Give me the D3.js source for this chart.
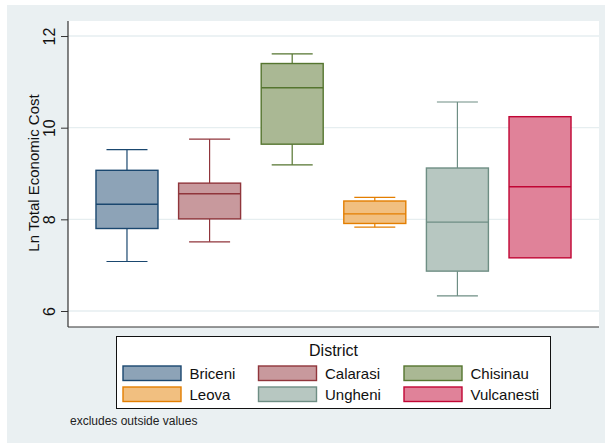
<!DOCTYPE html>
<html>
<head>
<meta charset="utf-8">
<script src="https://cdn.jsdelivr.net/npm/d3@7"></script>
<style>
  body { margin: 0; background: #fff; }
  svg text { font-family: "Liberation Sans", Arial, sans-serif; }
</style>
</head>
<body>
<div id="chart"></div>
<script>
// data (ln of total economic cost per district)
const districts = ['Briceni', 'Calarasi', 'Chisinau', 'Leova', 'Ungheni', 'Vulcanesti']
const lowWhisker  = [7.08, 7.51, 9.19, 7.83, 6.33, 7.16]
const q1          = [7.80, 8.01, 9.64, 7.91, 6.87, 7.16]
const medians     = [8.33, 8.56, 10.87, 8.12, 7.94, 8.71]
const q3          = [9.07, 8.79, 11.40, 8.40, 9.12, 10.24]
const highWhisker = [9.52, 9.75, 11.61, 8.48, 10.56, 10.24]
const yTicks = [6, 8, 10, 12]

const strokeColors = ['#1a476f', '#90353b', '#55752f', '#e37e00', '#6e8e84', '#c10534']
const fillColors   = ['#8da3b7', '#c8999d', '#aab894', '#f1bf80', '#b7c7c1', '#e08299']

const width = 605
const height = 443
const plot = {left: 68, right: 599, top: 21, bottom: 327}

const rows = districts.map((d, i) => ({
  name: d, lo: lowWhisker[i], q1: q1[i], med: medians[i], q3: q3[i], hi: highWhisker[i],
  stroke: strokeColors[i], fill: fillColors[i]
}))

const svg = d3.select('#chart')
  .append('svg')
  .attr('width', width)
  .attr('height', height)

// outer stata-like background
svg.append('rect')
  .attr('x', 7).attr('y', 5)
  .attr('width', width - 7).attr('height', height - 5)
  .attr('fill', '#eaf0f2')

svg.append('rect')
  .attr('x', plot.left).attr('y', plot.top)
  .attr('width', plot.right - plot.left).attr('height', plot.bottom - plot.top)
  .attr('fill', '#ffffff')

const yScale = d3.scaleLinear()
  .domain([6 - (plot.bottom - 311) / 45.83, 6 + (311 - plot.top) / 45.83])
  .range([plot.bottom, plot.top])

const xScale = d3.scalePoint()
  .domain(districts)
  .range([plot.left, plot.right])
  .padding(0.714)

const boxW = 62
const capW = 41

// gridlines
svg.append('g')
  .selectAll('line')
  .data(yTicks)
  .enter()
  .append('line')
  .attr('x1', plot.left).attr('x2', plot.right)
  .attr('y1', d => yScale(d)).attr('y2', d => yScale(d))
  .attr('stroke', '#e6eef0')
  .attr('stroke-width', 1.3)

// y axis
const yAxis = d3.axisLeft(yScale)
  .tickValues(yTicks)
  .tickFormat(d3.format('d'))
  .tickSize(7)
  .tickSizeOuter(0)

const yAxisGroup = svg.append('g')
  .attr('transform', `translate(${plot.left}, 0)`)
  .call(yAxis)

yAxisGroup.select('.domain').remove()
yAxisGroup.selectAll('line').attr('stroke', '#333')
yAxisGroup.selectAll('text')
  .attr('font-size', '16px')
  .attr('fill', '#111')
  .attr('text-anchor', 'middle')
  .attr('dy', null)
  .attr('x', null)
  .attr('transform', d => `translate(-13, 0) rotate(-90)`)

svg.append('line')
  .attr('x1', plot.left).attr('x2', plot.left)
  .attr('y1', plot.top).attr('y2', plot.bottom)
  .attr('stroke', '#333').attr('stroke-width', 1.2)
svg.append('line')
  .attr('x1', plot.left).attr('x2', plot.right)
  .attr('y1', plot.bottom).attr('y2', plot.bottom)
  .attr('stroke', '#333').attr('stroke-width', 1.2)

svg.append('text')
  .text('Ln Total Economic Cost')
  .attr('transform', `translate(38.5, 173) rotate(-90)`)
  .attr('text-anchor', 'middle')
  .attr('font-size', '15px')
  .attr('fill', '#111')

// boxes
const boxes = svg.append('g').selectAll('g')
  .data(rows)
  .enter()
  .append('g')
  .attr('transform', d => `translate(${xScale(d.name)}, 0)`)

boxes.append('line')
  .attr('x1', 0).attr('x2', 0)
  .attr('y1', d => yScale(d.hi)).attr('y2', d => yScale(d.q3))
  .attr('stroke', d => d.stroke).attr('stroke-width', 1.2)
boxes.append('line')
  .attr('x1', 0).attr('x2', 0)
  .attr('y1', d => yScale(d.q1)).attr('y2', d => yScale(d.lo))
  .attr('stroke', d => d.stroke).attr('stroke-width', 1.2)
boxes.filter(d => d.hi > d.q3).append('line')
  .attr('x1', -capW / 2).attr('x2', capW / 2)
  .attr('y1', d => yScale(d.hi)).attr('y2', d => yScale(d.hi))
  .attr('stroke', d => d.stroke).attr('stroke-width', 1.2)
boxes.filter(d => d.lo < d.q1).append('line')
  .attr('x1', -capW / 2).attr('x2', capW / 2)
  .attr('y1', d => yScale(d.lo)).attr('y2', d => yScale(d.lo))
  .attr('stroke', d => d.stroke).attr('stroke-width', 1.2)

boxes.append('rect')
  .attr('x', -boxW / 2)
  .attr('width', boxW)
  .attr('y', d => yScale(d.q3))
  .attr('height', d => yScale(d.q1) - yScale(d.q3))
  .attr('fill', d => d.fill)
  .attr('stroke', d => d.stroke)
  .attr('stroke-width', 1.4)

boxes.append('line')
  .attr('x1', -boxW / 2).attr('x2', boxW / 2)
  .attr('y1', d => yScale(d.med)).attr('y2', d => yScale(d.med))
  .attr('stroke', d => d.stroke).attr('stroke-width', 1.4)

// legend
svg.append('rect')
  .attr('x', 116.5).attr('y', 336.5)
  .attr('width', 434).attr('height', 72)
  .attr('fill', '#fff')
  .attr('stroke', '#111').attr('stroke-width', 1)

const legend = svg.append('g')
legend.append('text')
  .text('District')
  .attr('x', 333.5).attr('y', 355.5)
  .attr('text-anchor', 'middle')
  .attr('font-size', '16px')
  .attr('fill', '#111')

const colX = [123, 258.5, 404]
const rowY = [366, 387]

const items = legend.selectAll('g.item')
  .data(rows)
  .enter()
  .append('g')
  .attr('class', 'item')
  .attr('transform', (d, i) => `translate(${colX[i % 3]}, ${rowY[Math.floor(i / 3)]})`)

items.append('rect')
  .attr('width', 58).attr('height', 14.5)
  .attr('fill', d => d.fill)
  .attr('stroke', d => d.stroke)
  .attr('stroke-width', 1.4)

items.append('text')
  .text(d => d.name)
  .attr('x', 66.5).attr('y', 12.5)
  .attr('font-size', '15px')
  .attr('fill', '#111')

svg.append('text')
  .text('excludes outside values')
  .attr('x', 70).attr('y', 424.5)
  .attr('font-size', '12px')
  .attr('fill', '#222')
</script>
</body>
</html>
